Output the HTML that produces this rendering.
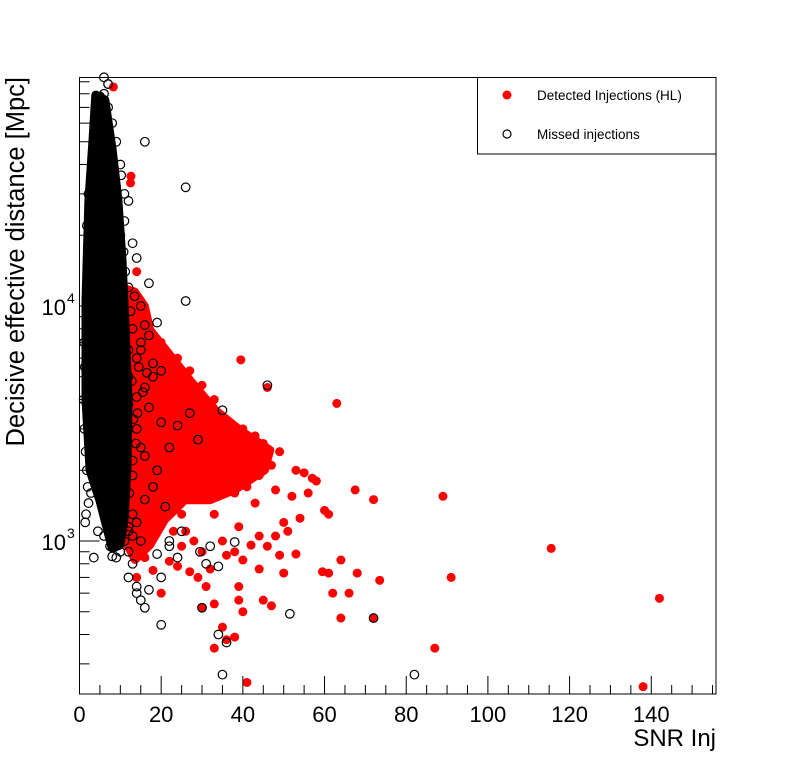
<!DOCTYPE html>
<html><head><meta charset="utf-8">
<style>
html,body{margin:0;padding:0;background:#fff;}
svg{display:block;font-family:"Liberation Sans",Arial,sans-serif;}
</style></head>
<body>
<svg id="chart" width="796" height="772" viewBox="0 0 796 772">
<rect x="0" y="0" width="796" height="772" fill="#fff"/>
<g id="marks"></g>
<rect x="79.5" y="77.5" width="636.5" height="616.5" fill="none" stroke="#000" stroke-width="1"/>
<g id="axes"></g>
<text x="716" y="746" font-size="24" text-anchor="end">SNR Inj</text>
<text transform="translate(24,77) rotate(-90)" font-size="25.5" text-anchor="end">Decisive effective distance [Mpc]</text>
<g>
<rect x="477.5" y="77.5" width="238.5" height="76.5" fill="#fff" stroke="#000" stroke-width="1"/>
<circle cx="507" cy="95" r="4.5" fill="#ff0000"/>
<text x="537" y="100" font-size="13.5">Detected Injections (HL)</text>
<circle cx="507" cy="134" r="4" fill="none" stroke="#000" stroke-width="1.2"/>
<text x="537" y="139" font-size="13.5">Missed injections</text>
</g>
</svg>
<script>
// ---- data ----
const xTicks = [0,20,40,60,80,100,120,140];
const yMajorTicks = [1000,10000];
const yMajorLabels = ["3","4"];
// dense-region envelopes (snr, distance)
const detEnvSnr  = [10.4,13.6,16.0,17.3,22.2,27.1,33.3,39.3,46.7,45.4,38.1,31.9,25.8,20.9,17.3,13.6,11.1];
const detEnvDist = [12000,11500,10000,7910,6190,4840,3610,2970,2440,2000,1650,1490,1490,1230,962,830,1010];
const misEnvSnr  = [4.0,6.2,8.0,9.4,10.4,11.1,11.9,11.6,10.9,9.9,8.0,5.0,2.6,1.6,1.6,2.3,3.3];
const misEnvDist = [79000,75300,46100,28200,15700,8710,3980,2000,1230,962,934,1490,2000,3980,10600,28200,50900];
// detected injections
const detSnr = [39.5,63,46,89,115.5,142,138,91,87,73.5,72,67.5,60,61,58,57,55,52,64,66,64,61,59.5,62,68,72,53,49,50,47,45,44,48,46,50,43,41,47,49,45,43,40,42,38,39,36,35,37,36,34,33,30,27,24,20,32,33,35,36,38,33,39,39,40,41,38,40,36,42,44,30,28,26,24,22,27,29,30,31,25,31,29,27,24,22,20,18,16,23,25,33,35,30,34,26,28,30,22,18,20,17,15,13,14,16,18,14,20,15,21,24,27,17,14,13,14,12.5,8.3,12.6,56,54,51,48,53,42,35,37,44];
const detDist = [5900,3850,4500,1550,930,570,240,700,350,680,1500,1650,1350,1300,1800,1850,1950,1550,830,600,470,730,740,600,730,470,880,870,730,530,560,1050,1050,950,1200,1450,1700,2100,2400,2600,2800,3000,2450,1600,1150,1800,2200,2500,3000,3500,4000,4600,5300,6000,7000,760,540,430,380,390,350,640,560,500,250,900,830,870,960,760,900,1000,1100,780,820,740,700,520,640,950,2000,2200,1800,1500,1700,1300,1100,1000,1100,1300,1300,1000,1500,1700,2500,2900,3200,3000,2800,2300,2000,1600,1400,1200,850,750,700,600,1900,4500,3800,3600,4000,6000,9000,14000,33400,85500,35700,1600,1250,1100,1650,2000,2200,2700,2800,1900];
// missed injections
const misSnr = [26,26,46,35,27,24,22,29,16,82,72,51.5,35,29.5,31,34,32,30,38,20,34,36,16,15,14,14,17,20,19,22,18,19,20,17,16,18,20,15,17,19,16,15,17,14,13,11,12,10,9,8,7,7,6,5,5,13,15,14,16,13,12,13,12,4,3,2,14,12,12,15,18,16,21,22,25,24,12,11,10,9,8,13,12,11,10,9,3,2.5,2,1.8,2.2,3,4,5,6,7,
  1.2,1.0,1.3,1.1,1.5,1.8,2.0,12.5,13,13.5,14,12.8,13.2,14.5,12,11.5,11,10.5,12.2,13.8,14.2,15.5,16.5,12,11.2,10.8,10,9.5,9,10.2,11,12,13,14,15,9.8,8.5,3.5,2.8,2.2,1.6,1.4,4.5,6,7.5];
const misDist = [32000,10500,4600,3600,3500,3100,2500,2700,50000,270,470,490,270,900,800,780,950,520,990,440,400,370,520,560,600,640,620,700,880,1000,1700,2000,3200,3700,4500,5000,5300,6500,7500,8500,8300,10000,12500,16000,18500,23000,28000,40000,50000,60000,70000,88000,94000,78000,63000,2200,2500,3000,1500,1300,900,800,700,5000,4500,3600,4100,5000,6500,7000,5700,2300,1400,950,1100,850,1100,1000,900,850,860,1900,3000,6000,12000,20000,7000,10000,15000,22000,30000,40000,60000,70000,80000,88000,
  3000,4000,5500,7000,2400,2000,1700,9500,8000,11000,6000,4800,3300,5500,3800,2700,2200,1800,1600,2600,3500,4300,5200,12000,14000,17000,20000,24000,32000,36000,30000,1150,1050,1200,1000,1450,1000,850,1600,1450,1300,1200,1100,1050,950,800,780];

// ---- axes ----
const X0=79.5, XS=4.084, PT=77, PB=694, Y3=541, DEC=235;
function x(v){return X0+v*XS;}
function y(v){return Y3-(Math.log10(v)-3)*DEC;}
const NS='http://www.w3.org/2000/svg';
function mk(tag,attrs,parent){const e=document.createElementNS(NS,tag);for(const k in attrs)e.setAttribute(k,attrs[k]);parent.appendChild(e);return e;}
const marks=document.getElementById('marks');
const axes=document.getElementById('axes');

let d='';
for(let i=0;i<detEnvSnr.length;i++){d+=(i?'L':'M')+x(detEnvSnr[i]).toFixed(1)+','+y(detEnvDist[i]).toFixed(1);}
const detArea=mk('path',{d:d+'Z',fill:'#ff0000',stroke:'#ff0000','stroke-width':8,'stroke-linejoin':'round'},marks);


for(let i=0;i<detSnr.length;i++){
  const c=mk('circle',{cx:x(detSnr[i]),cy:y(detDist[i]),r:4.5,fill:'#ff0000'},marks);
  
  
}
d='';
for(let i=0;i<misEnvSnr.length;i++){d+=(i?'L':'M')+x(misEnvSnr[i]).toFixed(1)+','+y(misEnvDist[i]).toFixed(1);}
const misArea=mk('path',{d:d+'Z',fill:'#000',stroke:'#000','stroke-width':9,'stroke-linejoin':'round'},marks);


for(let i=0;i<misSnr.length;i++){
  const c=mk('circle',{cx:x(misSnr[i]),cy:y(misDist[i]),r:4.3,fill:'none',stroke:'#000','stroke-width':1.2},marks);
  
  
}

for(let v=0;v<=155;v+=5){
  const major=v%20===0;
  const t=mk('line',{x1:x(v),x2:x(v),y1:PB,y2:PB-(major?18:9),stroke:'#000','stroke-width':1},axes);
  
  
}
xTicks.forEach(v=>{
  const t=mk('text',{x:x(v),y:722,'font-size':22,'text-anchor':'middle'},axes);
  t.textContent=v;
  
  
});
[100,1000,10000].forEach(base=>{
  for(let m=1;m<=9;m++){
    const v=base*m, py=y(v);
    if(py<PT||py>PB)continue;
    const major=m===1;
    const t=mk('line',{x1:X0,x2:X0+(major?20:10),y1:py,y2:py,stroke:'#000','stroke-width':1},axes);
    
    
  }
});
yMajorTicks.forEach((v,i)=>{
  const t=mk('text',{x:66,y:y(v)+9,'font-size':22,'text-anchor':'end'},axes);
  t.textContent='10';
  
  
  const s=mk('text',{x:67,y:y(v)-3,'font-size':14},axes);
  s.textContent=yMajorLabels[i];
  
  
});
</script>
</body></html>
